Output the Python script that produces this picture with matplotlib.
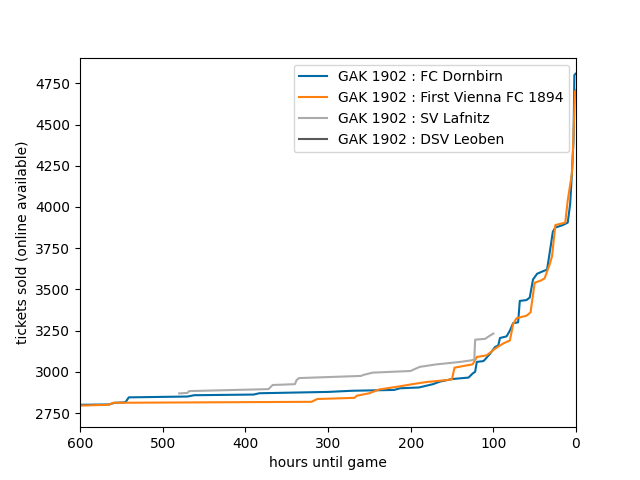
import matplotlib
matplotlib.use("Agg")
import matplotlib.pyplot as plt

plt.style.use("tableau-colorblind10")

# hours until game / tickets sold
dornbirn_h = [600, 565, 558, 545, 541, 470, 462, 390, 383, 300, 271, 220, 213, 190, 173, 165,
              150, 130, 125, 122, 120, 112, 110, 104, 98, 94, 92, 84, 80, 76, 70, 68, 60, 56,
              52, 47, 40, 35, 31, 28, 25, 16, 10, 7, 5, 3, 2, 0]
dornbirn_t = [2800, 2802, 2812, 2815, 2845, 2850, 2858, 2862, 2870, 2878, 2885, 2890, 2900, 2905, 2925, 2940,
              2956, 2965, 2990, 3000, 3060, 3065, 3075, 3110, 3150, 3160, 3205, 3215, 3250, 3295, 3300, 3430, 3435, 3450,
              3560, 3595, 3610, 3620, 3750, 3850, 3875, 3890, 3905, 4020, 4200, 4400, 4800, 4810]

vienna_h = [600, 565, 560, 320, 313, 268, 265, 250, 238, 213, 198, 181, 156, 150, 147, 131,
            125, 120, 108, 98, 88, 80, 76, 72, 60, 55, 50, 42, 38, 32, 29, 25, 13, 10, 5, 4, 1.2, 0]
vienna_t = [2795, 2800, 2812, 2818, 2835, 2842, 2855, 2870, 2893, 2912, 2925, 2938, 2950, 2955, 3025, 3040,
            3045, 3090, 3100, 3140, 3172, 3190, 3290, 3325, 3340, 3360, 3540, 3555, 3567, 3650, 3700, 3890, 3905, 4040, 4200, 4300, 4700, 4710]

lafnitz_h = [480, 470, 468, 372, 370, 367, 340, 338, 335, 260, 258, 246, 200, 198, 189, 169,
             140, 126, 123, 122, 110, 104, 100]
lafnitz_t = [2869, 2872, 2883, 2895, 2905, 2920, 2925, 2950, 2962, 2975, 2980, 2995, 3005, 3010, 3030, 3045,
             3060, 3070, 3075, 3195, 3200, 3220, 3232]

leoben_h = []
leoben_t = []

fig, ax = plt.subplots(figsize=(6.4, 4.8), dpi=100)
ax.plot(dornbirn_h, dornbirn_t, label="GAK 1902 : FC Dornbirn")
ax.plot(vienna_h, vienna_t, label="GAK 1902 : First Vienna FC 1894")
ax.plot(lafnitz_h, lafnitz_t, label="GAK 1902 : SV Lafnitz")
ax.plot(leoben_h, leoben_t, label="GAK 1902 : DSV Leoben")

ax.set_xlim(600, 0)
ax.set_ylim(2664, 4906)
ax.set_xlabel("hours until game")
ax.set_ylabel("tickets sold (online available)")
ax.legend(loc="upper right")

fig.savefig("out.png")
